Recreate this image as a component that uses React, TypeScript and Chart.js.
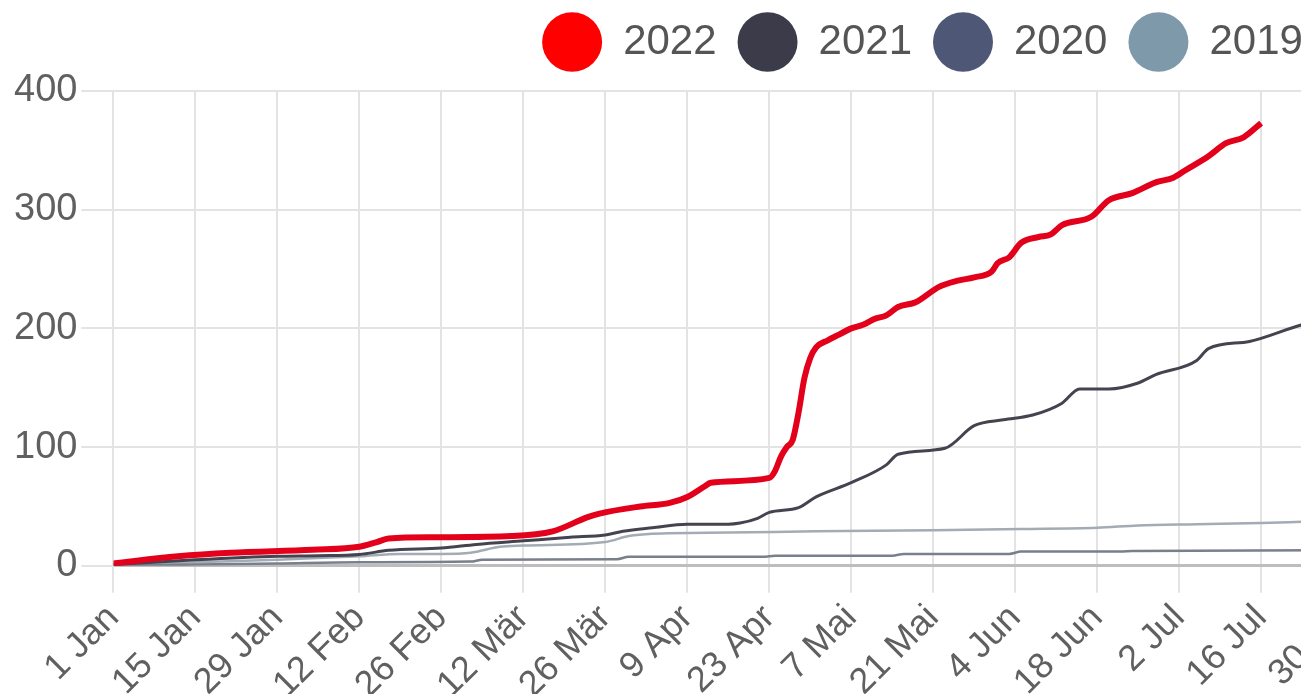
import React, { useEffect, useRef } from 'react';
import { Chart, registerables } from 'chart.js';

Chart.register(...registerables);

const FONT = "'Liberation Sans', Arial, sans-serif";

const monthNames = ['Jan', 'Feb', 'Mär', 'Apr', 'Mai', 'Jun', 'Jul', 'Aug', 'Sep', 'Okt', 'Nov', 'Dez'];
const seriesLabels = ['2022', '2021', '2020', '2019'];
const legendColors = ['#ff0000', '#3b3b4a', '#4e5876', '#7e99aa'];
const lineColors = ['#e3001b', '#444450', '#7a7f8c', '#a3acb4'];
const lineWidths = [6, 3, 2.5, 2.5];

const tickDays = [0, 14, 28, 42, 56, 70, 84, 98, 112, 126, 140, 154, 168, 182, 196, 210, 224, 238, 252, 266, 280];
const yTickValues = [0, 100, 200, 300, 400];

const days2022 = [0, 11, 20, 34, 42, 45, 47, 55, 68, 75, 81, 83, 90, 95, 98, 101, 102, 112, 113, 114, 115, 116, 117, 118, 119, 120, 122, 124, 126, 128, 130, 132, 134, 137, 141, 144, 147, 150, 151, 153, 155, 158, 160, 162, 167, 170, 174, 178, 181, 183, 187, 190, 193, 196];
const values2022 = [2, 8, 11, 13.5, 16, 20, 23, 24, 25, 29, 41, 44, 50, 53, 58, 67, 70, 74, 80, 92, 100, 106, 129, 158, 175, 184, 190, 195, 200, 203, 208, 211, 218, 222, 235, 240, 243, 248, 255, 260, 272, 277, 279, 287, 294, 308, 314, 323, 327, 333, 345, 356, 361, 373];

const days2021 = [0, 14, 28, 35, 42, 47, 56, 62, 70, 78, 84, 87, 92, 98, 105, 107, 110, 112, 117, 120, 126, 132, 134, 142, 147, 152, 157, 162, 165, 170, 175, 178, 185, 187, 194, 203, 210];
const values2021 = [1, 5, 8, 8.5, 9.5, 13, 15, 18, 21, 24, 26, 29, 32, 35, 35, 36, 40, 45, 49, 58, 70, 85, 94, 99, 118, 123, 127, 137, 149, 149, 154, 161, 173, 183, 189, 203, 210];

const days2020 = [0, 14, 28, 42, 61, 63, 86, 88, 111, 113, 133, 135, 153, 155, 172, 174, 210];
const values2020 = [0, 1, 2, 3, 3.5, 5, 5.5, 7.5, 7.5, 8.5, 8.5, 10, 10, 12, 12, 12.5, 13];

const days2019 = [0, 14, 28, 42, 49, 56, 61, 66, 70, 84, 88, 92, 105, 120, 140, 155, 168, 175, 185, 196, 203, 210];
const values2019 = [0, 3, 5, 8, 10, 10, 11, 16, 17, 20, 25, 27, 28, 29, 30, 31, 32, 34, 35, 36, 37, 38];

const seriesDays = [days2022, days2021, days2020, days2019];
const seriesValues = [values2022, values2021, values2020, values2019];

const CANVAS_W = 1835;
const CANVAS_H = 712;
const X_MAX = 294;

function dayLabel(d: number) {
  const dt = new Date(Date.UTC(2022, 0, 1 + d));
  return `${dt.getUTCDate()} ${monthNames[dt.getUTCMonth()]}`;
}

export default function App() {
  const ref = useRef<HTMLCanvasElement>(null);

  useEffect(() => {
    if (!ref.current) return;
    const chart = new Chart(ref.current, {
      type: 'line',
      data: {
        datasets: seriesLabels.map((label, i) => ({
          label,
          data: seriesDays[i].map((d, j) => ({ x: d, y: seriesValues[i][j] })),
          borderColor: lineColors[i],
          backgroundColor: legendColors[i],
          borderWidth: lineWidths[i],
          pointRadius: 0,
          pointHoverRadius: 0,
          cubicInterpolationMode: 'monotone',
          fill: false,
        })),
      },
      options: {
        responsive: false,
        animation: false,
        layout: { padding: { left: 10, right: 0, top: 0, bottom: 0 } },
        plugins: {
          legend: {
            position: 'top',
            align: 'center',
            labels: {
              usePointStyle: true,
              pointStyle: 'circle',
              pointStyleWidth: 60,
              boxHeight: 42,
              padding: 21,
              color: '#555',
              font: { size: 42, family: FONT },
              generateLabels: (c: any) =>
                (Chart.defaults.plugins.legend.labels.generateLabels as any)(c).map((it: any) => ({
                  ...it,
                  strokeStyle: it.fillStyle,
                  lineWidth: 0,
                })),
            },
          },
          tooltip: { enabled: false },
        },
        scales: {
          x: {
            type: 'linear',
            min: 0,
            max: X_MAX,
            afterBuildTicks: (ax: any) => {
              ax.ticks = tickDays.map((v) => ({ value: v }));
            },
            ticks: {
              autoSkip: false,
              minRotation: 45,
              maxRotation: 45,
              padding: 4,
              color: '#606060',
              font: { size: 36, family: FONT },
              callback: (v: any) => dayLabel(Number(v)),
            },
            grid: { color: '#e3e3e3', lineWidth: 2, tickLength: 27 },
            border: { color: '#bdbdbd', width: 3 },
          },
          y: {
            min: 0,
            max: 400,
            afterBuildTicks: (ax: any) => {
              ax.ticks = yTickValues.map((v) => ({ value: v }));
            },
            ticks: { padding: 4, color: '#606060', font: { size: 38, family: FONT } },
            grid: { color: '#e3e3e3', lineWidth: 2, tickLength: 32 },
            border: { color: '#e3e3e3', width: 2 },
          },
        },
      } as any,
      plugins: [
        {
          id: 'legendGap',
          beforeInit(c: any) {
            const lg = c.legend;
            if (lg) {
              const fit = lg.fit;
              lg.fit = function () {
                fit.call(this);
                this.height += 18;
              };
            }
          },
        },
      ],
    });
    return () => chart.destroy();
  }, []);

  return (
    <div style={{ position: 'fixed', left: 0, top: 0, width: '1301px', height: '694px', overflow: 'hidden', background: '#fff' }}>
      <canvas ref={ref} width={CANVAS_W} height={CANVAS_H} style={{ position: 'absolute', left: 0, top: 0, width: CANVAS_W + 'px', height: CANVAS_H + 'px' }} />
    </div>
  );
}
